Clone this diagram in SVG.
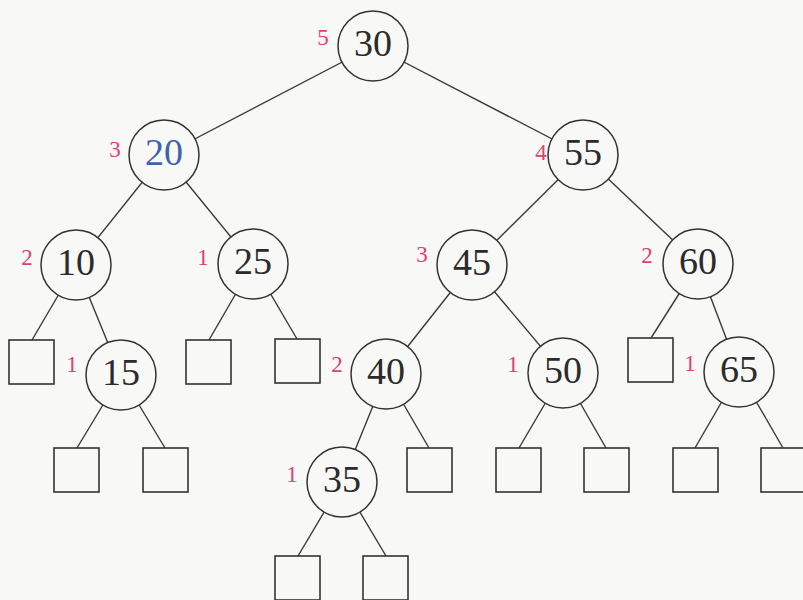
<svg xmlns="http://www.w3.org/2000/svg" width="803" height="600" viewBox="0 0 803 600">
<style>
.bg{fill:#f8f8f7}
.e{stroke:#3a3a3a;stroke-width:1.4;fill:none}
.c{fill:#f8f8f7;stroke:#333;stroke-width:1.5}
.s{fill:#f8f8f7;stroke:#333;stroke-width:1.6}
.k{font-family:"Liberation Serif","Times New Roman",serif;font-size:38px;fill:#2b2b2b;text-anchor:middle}
.b{fill:#3f62ad}
.h{font-family:"Liberation Serif","Times New Roman",serif;font-size:23px;fill:#e0416f;text-anchor:middle}
</style>
<rect class="bg" x="0" y="0" width="803" height="600"/>
<g id="connectors">
<line class="e" x1="373" y1="46" x2="164" y2="155"/>
<line class="e" x1="373" y1="46" x2="583" y2="155"/>
<line class="e" x1="164" y1="155" x2="76" y2="265"/>
<line class="e" x1="164" y1="155" x2="253" y2="264"/>
<line class="e" x1="583" y1="155" x2="472" y2="265"/>
<line class="e" x1="583" y1="155" x2="698" y2="264"/>
<line class="e" x1="76" y1="265" x2="32" y2="340"/>
<line class="e" x1="76" y1="265" x2="121" y2="375"/>
<line class="e" x1="253" y1="264" x2="209" y2="340"/>
<line class="e" x1="253" y1="264" x2="297" y2="339"/>
<line class="e" x1="472" y1="265" x2="386" y2="374"/>
<line class="e" x1="472" y1="265" x2="563" y2="373"/>
<line class="e" x1="698" y1="264" x2="651" y2="338"/>
<line class="e" x1="698" y1="264" x2="739" y2="372"/>
<line class="e" x1="121" y1="375" x2="77" y2="448"/>
<line class="e" x1="121" y1="375" x2="165" y2="448"/>
<line class="e" x1="386" y1="374" x2="342" y2="482"/>
<line class="e" x1="386" y1="374" x2="429" y2="448"/>
<line class="e" x1="563" y1="373" x2="519" y2="448"/>
<line class="e" x1="563" y1="373" x2="606" y2="448"/>
<line class="e" x1="739" y1="372" x2="695" y2="448"/>
<line class="e" x1="739" y1="372" x2="783" y2="448"/>
<line class="e" x1="342" y1="482" x2="298" y2="556"/>
<line class="e" x1="342" y1="482" x2="386" y2="556"/>
</g>
<g id="n30"><circle class="c" cx="373" cy="46" r="35"/><text class="k" x="373" y="56">30</text><text class="h" x="323" y="45">5</text></g>
<g id="n20"><circle class="c" cx="164" cy="155" r="35"/><text class="k b" x="164" y="165">20</text><text class="h" x="115" y="157">3</text></g>
<g id="n55"><circle class="c" cx="583" cy="155" r="35"/><text class="k" x="583" y="165">55</text><text class="h" x="541" y="160">4</text></g>
<g id="n10"><circle class="c" cx="76" cy="265" r="35"/><text class="k" x="76" y="275">10</text><text class="h" x="27" y="265">2</text></g>
<g id="n25"><circle class="c" cx="253" cy="264" r="35"/><text class="k" x="253" y="274">25</text><text class="h" x="203" y="265">1</text></g>
<g id="n45"><circle class="c" cx="472" cy="265" r="35"/><text class="k" x="472" y="275">45</text><text class="h" x="422" y="262">3</text></g>
<g id="n60"><circle class="c" cx="698" cy="264" r="35"/><text class="k" x="698" y="274">60</text><text class="h" x="647" y="263">2</text></g>
<g id="n15"><circle class="c" cx="121" cy="375" r="35"/><text class="k" x="121" y="385">15</text><text class="h" x="72" y="372">1</text></g>
<g id="n40"><circle class="c" cx="386" cy="374" r="35"/><text class="k" x="386" y="384">40</text><text class="h" x="337" y="372">2</text></g>
<g id="n50"><circle class="c" cx="563" cy="373" r="35"/><text class="k" x="563" y="383">50</text><text class="h" x="513" y="372">1</text></g>
<g id="n65"><circle class="c" cx="739" cy="372" r="35"/><text class="k" x="739" y="382">65</text><text class="h" x="690" y="371">1</text></g>
<g id="n35"><circle class="c" cx="342" cy="482" r="35"/><text class="k" x="342" y="492">35</text><text class="h" x="292" y="482">1</text></g>
<g id="leaf10L"><rect class="s" x="9" y="340" width="45" height="44"/></g>
<g id="leaf25L"><rect class="s" x="186" y="340" width="45" height="44"/></g>
<g id="leaf25R"><rect class="s" x="275" y="339" width="45" height="44"/></g>
<g id="leaf60L"><rect class="s" x="628" y="338" width="45" height="44"/></g>
<g id="leaf15L"><rect class="s" x="54" y="448" width="45" height="44"/></g>
<g id="leaf15R"><rect class="s" x="143" y="448" width="45" height="44"/></g>
<g id="leaf40R"><rect class="s" x="407" y="448" width="45" height="44"/></g>
<g id="leaf50L"><rect class="s" x="496" y="448" width="45" height="44"/></g>
<g id="leaf50R"><rect class="s" x="584" y="448" width="45" height="44"/></g>
<g id="leaf65L"><rect class="s" x="673" y="448" width="45" height="44"/></g>
<g id="leaf65R"><rect class="s" x="761" y="448" width="45" height="44"/></g>
<g id="leaf35L"><rect class="s" x="275" y="556" width="45" height="44"/></g>
<g id="leaf35R"><rect class="s" x="363" y="556" width="45" height="44"/></g>
</svg>
